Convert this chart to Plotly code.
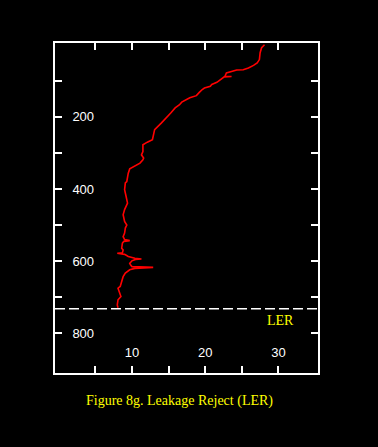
import plotly.graph_objects as go

depth = [0, 8, 22, 41, 50, 57, 64, 69, 70, 73, 78, 87, 88, 89, 96, 104, 110, 115, 120, 124,
         132, 141, 147, 152, 159, 166, 171, 175, 189, 203, 217, 235, 250, 263, 270, 274, 277,
         296, 305, 314, 319, 328, 335, 344, 356, 379, 383, 402, 420, 439, 457, 471, 490, 500,
         508, 522, 532, 540, 543, 545, 550, 564, 569, 577, 578, 580, 581, 587, 592, 594, 595,
         599, 606, 610, 615, 617, 618, 620, 624, 633, 643, 657, 670, 675, 689, 698, 707, 721, 729]
value = [28.1, 27.7, 27.5, 27.4, 27.1, 26.6, 25.9, 25.2, 24.3, 23.6, 22.9, 22.7, 23.6, 22.6,
         22.2, 21.6, 20.9, 20.7, 19.9, 19.6, 19.2, 18.8, 17.9, 17.5, 16.8, 16.5, 16.2, 15.9,
         15.3, 14.7, 14.0, 13.1, 12.9, 12.8, 12.1, 11.8, 11.5, 11.5, 11.3, 11.6, 11.5, 11.1,
         10.4, 9.7, 9.5, 9.3, 9.1, 9.0, 9.2, 9.4, 9.0, 8.8, 9.0, 9.3, 9.1, 9.0, 8.8, 9.0, 9.7,
         8.9, 8.7, 8.6, 8.8, 8.7, 8.0, 8.9, 9.0, 9.5, 10.4, 11.3, 10.5, 10.0, 9.7, 9.8, 10.0,
         12.9, 10.4, 10.4, 9.7, 9.1, 8.8, 8.6, 8.4, 8.1, 8.4, 8.5, 8.1, 8.0, 8.1]

y_tickvals = [100, 200, 300, 400, 500, 600, 700, 800]
y_ticktext = ["", "200", "", "400", "", "600", "", "800"]
x_tickvals = [5, 10, 15, 20, 25, 30]
x_ticktext = ["", "10", "", "20", "", "30"]
ler_depth = 732
ler_label = "LER"
caption = "Figure 8g. Leakage Reject (LER)"

fig = go.Figure()
fig.add_trace(go.Scatter(x=value, y=depth, mode="lines",
                         line=dict(color="#ff0000", width=1.6), showlegend=False))

fig.add_shape(type="line", xref="paper", x0=0, x1=1, yref="y", y0=ler_depth, y1=ler_depth,
              line=dict(color="white", width=1.5, dash="10px,4px"))
fig.add_annotation(x=30.3, y=765, xref="x", yref="y", text=ler_label, showarrow=False,
                   font=dict(family="Liberation Serif", size=14, color="#ffff00"))
fig.add_annotation(x=0.472, y=-0.084, xref="paper", yref="paper", text=caption,
                   showarrow=False, yanchor="middle",
                   font=dict(family="Liberation Serif", size=14, color="#ffff00"))

axis_common = dict(showline=True, linecolor="white", linewidth=2, mirror="ticks",
                   ticks="inside", ticklen=7, tickwidth=2, tickcolor="white",
                   showgrid=False, zeroline=False,
                   tickfont=dict(family="Liberation Sans", size=13, color="white"))

fig.update_xaxes(range=[-0.5, 35.4], tickvals=x_tickvals, ticktext=x_ticktext,
                 ticklabelposition="inside", ticklabelstandoff=6, **axis_common)
fig.update_yaxes(range=[910, -5], tickvals=y_tickvals, ticktext=y_ticktext,
                 ticklabelposition="inside", ticklabelstandoff=10, **axis_common)

fig.update_layout(width=378, height=447, margin=dict(l=55, r=60, t=43, b=74),
                  paper_bgcolor="black", plot_bgcolor="black", hovermode=False)

fig.write_html("out.html", config={"displayModeBar": False},
               post_script="document.body.style.margin='0';"
               "document.body.style.background='black';")
